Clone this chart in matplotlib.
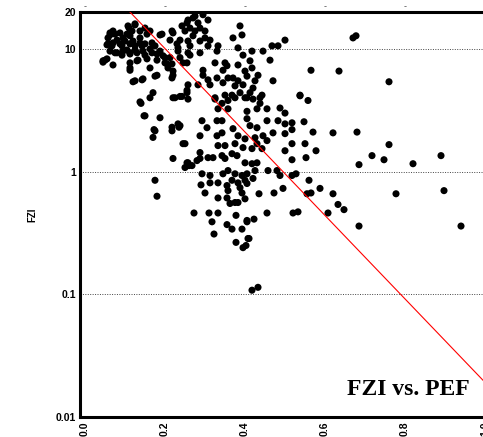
import matplotlib.pyplot as plt
import numpy as np

# PEF (x) and FZI (y)
pef = [
    0.125, 0.11, 0.07, 0.0625, 0.0875, 0.0575, 0.08, 0.055, 0.0675, 0.095,
    0.1125, 0.12, 0.1375, 0.15, 0.1625, 0.1875, 0.0925, 0.105, 0.075, 0.0925,
    0.1125, 0.125, 0.1425, 0.15, 0.1675, 0.175, 0.1675, 0.1875, 0.195, 0.18,
    0.1325, 0.1125, 0.1125, 0.05, 0.045, 0.07, 0.1625, 0.18, 0.12, 0.1425,
    0.2, 0.2125, 0.2075, 0.22, 0.2125, 0.2175, 0.2375, 0.2325, 0.2425, 0.255,
    0.2575, 0.245, 0.17, 0.1625, 0.1375, 0.225, 0.2375, 0.255, 0.2575,
    # extra upper-left cluster
    0.045, 0.055, 0.0625, 0.075, 0.1075, 0.125, 0.1175, 0.105, 0.1375, 0.155,
    0.0575, 0.07, 0.0875, 0.1, 0.1125, 0.125, 0.1375, 0.15, 0.0625, 0.08,
    0.095, 0.1125, 0.13, 0.145, 0.1625, 0.18, 0.155, 0.13, 0.1125, 0.175,
    0.205, 0.2, 0.2175, 0.22, 0.2175, 0.1925, 0.22, 0.23, 0.2325, 0.2375,
    0.255, 0.125, 0.145, 0.1475, 0.1875, 0.1725, 0.17, 0.2175, 0.22, 0.2425,
    0.255, 0.245, 0.2375,
    # top cluster near 0.3
    0.2575, 0.27, 0.2825, 0.3075, 0.2625, 0.2875, 0.3, 0.27, 0.2575, 0.3,
    0.3125, 0.3075, 0.2625, 0.2625, 0.2875, 0.3325, 0.33, 0.3875, 0.3925, 0.37,
    0.3825, 0.395, 0.4175, 0.445, 0.4625, 0.4675, 0.4825, 0.5, 0.325, 0.35,
    0.345, 0.355, 0.3825, 0.4125, 0.4175, 0.4, 0.295, 0.295, 0.3075, 0.33,
    0.345, 0.3575, 0.37, 0.3825, 0.405, 0.4325, 0.425, 0.47, 0.375, 0.395,
    0.42, 0.3875, 0.4125, 0.4425, 0.3675, 0.35, 0.325, 0.405, 0.4375, 0.2825,
    0.3125, 0.275, 0.295, 0.25, 0.275, 0.2875,
    # right upper
    0.67, 0.6775, 0.565, 0.635, 0.76, 0.5375, 0.5575,
    # left middle
    0.14, 0.15, 0.175, 0.2175, 0.2325, 0.235, 0.22, 0.255, 0.26, 0.175,
    # lower cloud
    0.18, 0.2725, 0.29, 0.3125, 0.3, 0.3325, 0.31, 0.3175, 0.3325, 0.3225,
    0.355, 0.3675, 0.3775, 0.3775, 0.3925, 0.395, 0.4025, 0.405, 0.4075, 0.355,
    0.3575, 0.355, 0.3625, 0.375, 0.3825, 0.3875, 0.3925, 0.4, 0.405,
    0.435, 0.4725, 0.495, 0.56, 0.555, 0.565, 0.5875, 0.62, 0.6325, 0.6475,
    0.6075, 0.52, 0.5325, 0.455, 0.405, 0.4225, 0.41, 0.685, 0.4175, 0.4325,
    # right of the line
    0.5375, 0.5175, 0.5475, 0.5175, 0.57, 0.62, 0.68, 0.5175, 0.55, 0.5775,
    0.5525, 0.5175, 0.76, 0.7175, 0.7475, 0.685, 0.5275,
    # dense middle
    0.2575, 0.325, 0.3425, 0.3575, 0.375, 0.4, 0.42, 0.4375, 0.3325, 0.3575,
    0.405, 0.43, 0.455, 0.4875, 0.5, 0.2925, 0.305, 0.33, 0.3425, 0.405,
    0.4125, 0.43, 0.455, 0.4825, 0.5, 0.2875, 0.33, 0.3425, 0.37, 0.3825,
    0.4, 0.425, 0.445, 0.455, 0.47, 0.5, 0.25, 0.3325, 0.35, 0.375,
    0.395, 0.4175, 0.43, 0.4425, 0.5, 0.2875, 0.2875, 0.3075, 0.32, 0.3425,
    0.35, 0.3675, 0.38, 0.4, 0.4175, 0.43, 0.2575, 0.2675, 0.28, 0.345,
    0.3575, 0.375, 0.3925, 0.405, 0.425, 0.4575, 0.48, 0.2925, 0.3125, 0.3675,
    0.3825, 0.4, 0.42, 0.3325, 0.4875, 0.5175, 0.25,
    # far right
    0.89, 0.82, 0.7775, 0.8975, 0.94,
]
fzi = [
    15.7, 14.8, 14.0, 13.0, 13.5, 12.3, 11.8, 10.8, 10.6, 12.3,
    12.8, 11.6, 12.3, 14.8, 14.0, 13.0, 10.6, 9.8, 9.3, 8.9,
    9.3, 9.8, 10.6, 8.9, 11.2, 10.6, 9.3, 9.6, 8.8, 8.1,
    8.1, 7.7, 6.7, 8.1, 7.8, 7.4, 7.0, 6.1, 5.4, 5.6,
    7.7, 8.5, 7.0, 6.1, 11.8, 14.0, 11.8, 10.2, 15.4, 16.3,
    9.3, 7.7, 4.4, 4.0, 3.7, 4.0, 4.1, 4.4, 5.1,
    8.0, 8.3, 13.5, 13.2, 15.4, 16.0, 14.0, 13.2, 14.0, 13.2,
    11.0, 11.2, 11.0, 11.6, 11.0, 10.6, 11.2, 11.0, 9.6, 9.3,
    9.6, 9.1, 9.3, 9.6, 10.0, 9.1, 8.3, 8.0, 7.0, 6.0,
    7.55, 8.5, 7.55, 6.6, 5.8, 13.2, 13.5, 11.0, 9.6, 8.5,
    7.7, 5.5, 5.7, 2.85, 2.75, 2.2, 1.9, 2.3, 4.0, 4.1,
    4.6, 1.69, 2.37,
    17.2, 17.9, 16.3, 17.2, 14.8, 14.8, 14.0, 12.8, 11.6, 12.3,
    11.8, 10.6, 10.6, 8.9, 9.3, 10.6, 9.6, 15.4, 13.0, 12.3,
    10.2, 8.9, 9.6, 9.6, 8.1, 10.6, 10.6, 11.8, 7.7, 7.7,
    6.7, 7.3, 7.4, 8.0, 7.0, 6.6, 6.7, 6.1, 5.6, 5.8,
    5.3, 5.8, 5.8, 5.5, 6.0, 6.1, 5.5, 5.5, 5.0, 5.1,
    4.8, 4.4, 4.4, 4.2, 4.2, 4.2, 4.0, 4.0, 4.0, 5.1,
    5.1, 18.5, 19.0, 14.0, 14.0, 11.6,
    12.3, 12.8, 6.7, 6.6, 5.4, 4.2, 3.8,
    3.6, 2.85, 2.15, 2.15, 2.45, 2.3, 1.28, 1.18, 1.12, 0.85,
    0.63, 0.46, 0.78, 0.81, 0.67, 0.61, 0.46, 0.39, 0.46, 0.31,
    0.37, 0.34, 0.44, 0.265, 0.34, 0.24, 0.25, 0.39, 0.285, 0.77,
    0.70, 0.61, 0.55, 0.56, 0.56, 0.74, 0.67, 0.60, 0.80,
    0.66, 0.67, 0.73, 0.85, 0.66, 0.67, 0.73, 0.66, 0.54, 0.49,
    0.46, 0.46, 0.47, 0.46, 0.40, 0.41, 0.285, 0.36, 0.108, 0.114,
    4.15, 2.5, 2.55, 2.2, 2.1, 2.07, 2.1, 1.69, 1.69, 1.48,
    1.3, 1.25, 1.66, 1.35, 1.25, 1.14, 0.96,
    3.9, 3.9, 3.6, 3.8, 4.0, 4.0, 3.9, 3.6, 3.25, 3.25,
    3.1, 3.25, 3.25, 3.3, 3.0, 2.6, 2.28, 2.6, 2.6, 2.7,
    2.37, 2.28, 2.6, 2.6, 2.45, 1.96, 1.96, 2.07, 2.24, 1.96,
    1.85, 1.89, 1.96, 1.79, 2.07, 2.04, 1.69, 1.63, 1.63, 1.69,
    1.57, 1.54, 1.69, 1.54, 1.48, 1.43, 1.28, 1.3, 1.3, 1.35,
    1.28, 1.4, 1.35, 1.18, 1.16, 1.18, 1.18, 1.12, 1.23, 0.96,
    1.02, 0.96, 0.93, 0.96, 1.02, 1.02, 1.02, 0.96, 0.93, 0.85,
    0.81, 0.85, 0.88, 0.81, 0.93, 0.93, 1.08,
    1.35, 1.16, 0.66, 0.70, 0.36,
]

# exponential trend line: FZI = a * exp(b * PEF)
fit_a = 48.2
fit_b = -7.83

xticks = [0.0, 0.2, 0.4, 0.6, 0.8, 1.0]
yticks = [0.01, 0.1, 1, 10, 20]
ytick_labels = ['0.01', '0.1', '1', '10', '20']
grid_levels = [0.1, 1, 10]

fig = plt.figure(figsize=(4.83, 4.37), dpi=100)
ax = fig.add_axes([80 / 483, 1 - 417 / 437, 413 / 483, 405 / 437])

ax.set_yscale('log')
ax.set_xlim(-0.0125, 1.02)
ax.set_ylim(0.01, 20)

for lv in grid_levels:
    ax.axhline(lv, color='#444444', lw=0.7, ls=(0, (1, 1.5)), zorder=1)

ax.scatter(pef, fzi, s=26, color='black', edgecolors='none', zorder=3)

xl = np.linspace(0.0, 1.02, 200)
ax.plot(xl, fit_a * np.exp(fit_b * xl), color='red', lw=0.8, zorder=4)

ax.set_xticks(xticks)
ax.set_xticklabels([f'{v:.1f}' for v in xticks], rotation=90,
                   fontsize=7.5, fontweight='bold', family='Liberation Sans')
ax.set_yticks(yticks)
ax.set_yticklabels(ytick_labels, fontsize=7.5, fontweight='bold',
                   family='Liberation Sans')
ax.minorticks_off()
ax.tick_params(axis='both', length=0, pad=3)

for side in ['left', 'bottom', 'top']:
    ax.spines[side].set_linewidth(2.2)
ax.spines['right'].set_visible(False)

ax.set_ylabel('FZI', fontsize=7, fontweight='bold', family='Liberation Sans',
              labelpad=13)

# little dashes above the top spine
for xv in xticks[:-1]:
    ax.text(xv, 1.0135, '-', transform=ax.get_xaxis_transform(), ha='center',
            va='center', fontsize=6, color='#555555')

ax.text(0.944, 0.067, 'FZI vs. PEF', transform=ax.transAxes, ha='right',
        va='center', fontsize=17, fontweight='bold', family='Liberation Serif')

fig.savefig('out.png', dpi=100)
